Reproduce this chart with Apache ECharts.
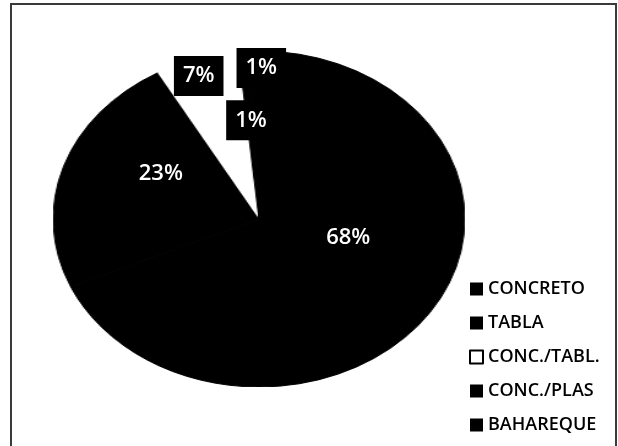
<!DOCTYPE html>
<html>
<head>
<meta charset="utf-8">
<script src="https://cdn.jsdelivr.net/npm/echarts@6/dist/echarts.min.js"></script>
<style>
  html, body { margin: 0; padding: 0; background: #fff; }
  #wrap { position: relative; width: 618px; height: 446px; overflow: hidden; }
  #pie, #over { position: absolute; }
</style>
</head>
<body>
<div id="wrap">
  <div id="pie"></div>
  <div id="over" style="left:0;top:0;width:618px;height:446px;"></div>
</div>
<script>
var categories = ['CONCRETO', 'TABLA', 'CONC./TABL.', 'CONC./PLAS', 'BAHAREQUE'];
// shown rounded as 68%, 23%, 7%, 1%, 1%
var shares = [68.4, 23.4, 6.6, 0.8, 0.8];

// scanned pie is squashed into an ellipse, so the circle gets stretched sideways
var PIE_CX = 259, PIE_CY = 219, PIE_R = 168, STRETCH = 1.225;
var FONT = 'Open Sans';
var sliceColors = ['#000', '#000', '#fff', '#000', '#000'];
// nudges for the data labels (excel "best fit" spots), in px
var labelShift = [[0, -29], [3, -18], [-28, -60], [0, -12], [5, -64]];

var pieEl = document.getElementById('pie');
pieEl.style.left = (PIE_CX - PIE_R) + 'px';
pieEl.style.top = (PIE_CY - PIE_R) + 'px';
pieEl.style.width = (PIE_R * 2) + 'px';
pieEl.style.height = (PIE_R * 2) + 'px';
pieEl.style.transform = 'scaleX(' + STRETCH + ')';
pieEl.style.transformOrigin = '50% 50%';

function pieData(transparent) {
  return categories.map(function(name, i) {
    var c = sliceColors[i];
    return {
      name: name,
      value: shares[i],
      itemStyle: transparent
        ? { color: 'rgba(0,0,0,0)', borderWidth: 0 }
        : { color: c, borderColor: c, borderWidth: c === '#000' ? 1 : 0 }
    };
  });
}

var shapes = echarts.init(pieEl);
shapes.setOption({
  animation: false,
  series: [{
    type: 'pie',
    center: ['50%', '50%'],
    radius: ['0%', '100%'],
    startAngle: 90,
    clockwise: true,
    label: { show: false },
    labelLine: { show: false },
    data: pieData(false)
  }]
});

var overlay = echarts.init(document.getElementById('over'));
overlay.setOption({
  animation: false,
  graphic: [{
    type: 'rect',
    shape: { x: 11, y: 4, width: 605, height: 470 },
    style: { fill: 'none', stroke: '#3a3a3a', lineWidth: 2 }
  }],
  legend: {
    orient: 'vertical',
    left: 469,
    top: 279,
    padding: 0,
    icon: 'rect',
    itemWidth: 13,
    itemHeight: 13,
    itemGap: 14,
    selectedMode: false,
    textStyle: { fontFamily: FONT, fontSize: 18, fontWeight: 600, color: '#000', lineHeight: 20 },
    data: categories.map(function(name, i) {
      return {
        name: name,
        itemStyle: sliceColors[i] === '#fff'
          ? { color: '#fff', borderColor: '#000', borderWidth: 2 }
          : { color: sliceColors[i], borderWidth: 0 }
      };
    })
  },
  series: [{
    type: 'pie',
    center: [PIE_CX, PIE_CY],
    radius: [0, PIE_R],
    startAngle: 90,
    clockwise: true,
    silent: true,
    label: {
      show: true,
      position: 'inside',
      formatter: function(p) { return Math.round(p.percent) + '%'; },
      fontFamily: FONT,
      fontSize: 22,
      fontWeight: 600,
      color: '#fff',
      backgroundColor: '#000',
      padding: [10, 9, 8, 9]
    },
    labelLine: { show: false },
    labelLayout: function(p) {
      var r = p.labelRect;
      var mx = r.x + r.width / 2, my = r.y + r.height / 2;
      var s = labelShift[p.dataIndex];
      return { x: PIE_CX + (mx - PIE_CX) * STRETCH + s[0], y: my + s[1] };
    },
    data: pieData(true)
  }]
});
</script>
</body>
</html>
